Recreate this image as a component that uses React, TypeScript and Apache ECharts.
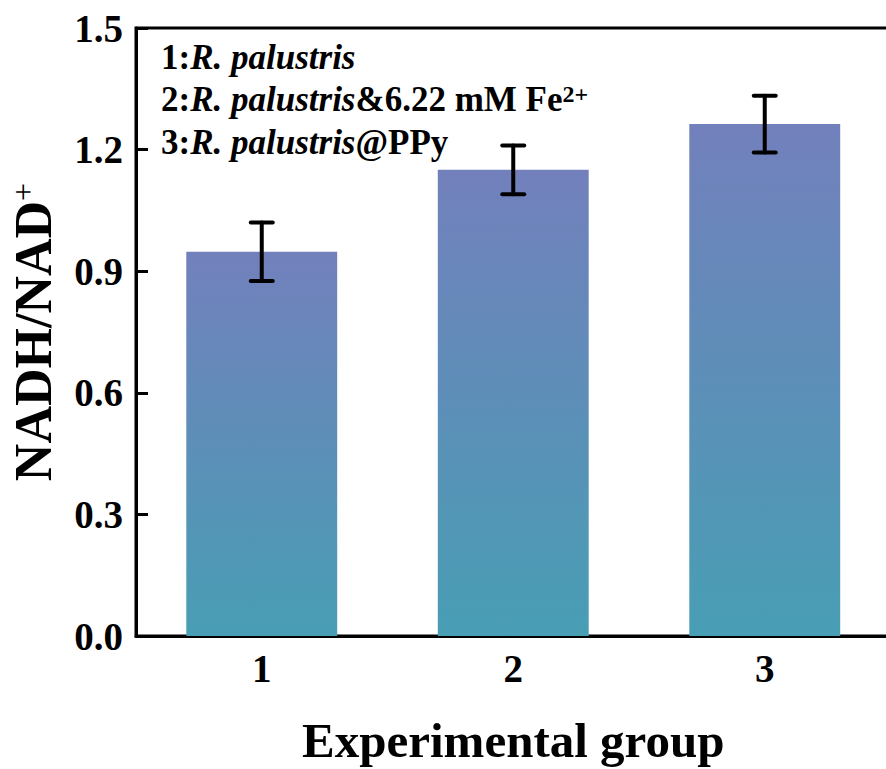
import React, { useEffect, useRef } from "react";
import * as echarts from "echarts";

const categories = ["1", "2", "3"];
const means = [0.948, 1.15, 1.263];
const errors = [0.072, 0.06, 0.07];
const yTicks = { min: 0, max: 1.5, interval: 0.3 };
const legendLines = [
  "{b|1:}{i|R. palustris}",
  "{b|2:}{i|R. palustris}{b|&6.22 mM Fe}{s|2+}",
  "{b|3:}{i|R. palustris}{b|@PPy}",
];

const FONT = "'Liberation Serif', 'Times New Roman', serif";

export default function App() {
  const ref = useRef<HTMLDivElement>(null);
  useEffect(() => {
    document.body.style.margin = "0";
    const chart = echarts.init(ref.current!, null, { renderer: "svg" });
    const legendRich = {
      b: { fontFamily: FONT, fontWeight: "bold", fontSize: 35, color: "#000" },
      i: { fontFamily: FONT, fontWeight: "bold", fontStyle: "italic", fontSize: 35, color: "#000" },
      s: { fontFamily: FONT, fontWeight: "bold", fontSize: 24, color: "#000", verticalAlign: "top", lineHeight: 35 },
    };
    const legendTop = [40, 82, 125];
    chart.setOption({
      animation: false,
      backgroundColor: "#fff",
      grid: {
        left: 136,
        top: 28,
        bottom: 133,
        right: -4.5,
        outerBoundsMode: "none",
        containLabel: false,
        show: true,
        borderColor: "#000",
        borderWidth: 3,
        backgroundColor: "transparent",
      },
      xAxis: {
        type: "category",
        data: categories,
        name: "Experimental group",
        nameLocation: "middle",
        nameGap: 82,
        nameTextStyle: { fontFamily: FONT, fontWeight: "bold", fontSize: 49, lineHeight: 44, color: "#000" },
        axisLine: { lineStyle: { color: "#000", width: 3 } },
        axisTick: { show: false },
        axisLabel: { fontFamily: FONT, fontWeight: "bold", fontSize: 39, color: "#000", margin: 13 },
      },
      yAxis: {
        type: "value",
        min: yTicks.min,
        max: yTicks.max,
        interval: yTicks.interval,
        name: "{a|NADH/NAD}{s|+}",
        nameLocation: "middle",
        nameGap: 77,
        nameRotate: 90,
        nameTextStyle: {
          rich: {
            a: { fontFamily: FONT, fontWeight: "bold", fontSize: 52, color: "#000" },
            s: { fontFamily: FONT, fontWeight: "normal", fontSize: 32, color: "#000", verticalAlign: "top", lineHeight: 48 },
          },
        },
        splitLine: { show: false },
        axisLine: { show: true, lineStyle: { color: "#000", width: 3 } },
        axisTick: { show: true, inside: true, length: 12, lineStyle: { color: "#000", width: 3 } },
        axisLabel: {
          fontFamily: FONT,
          fontWeight: "bold",
          fontSize: 39,
          color: "#000",
          margin: 13,
          formatter: (v: number) => v.toFixed(1),
        },
      },
      series: [
        {
          type: "bar",
          data: means,
          barWidth: "60%",
          itemStyle: {
            color: new echarts.graphic.LinearGradient(0, 0, 0, 1, [
              { offset: 0, color: "#7280BC" },
              { offset: 1, color: "#489EB4" },
            ]),
          },
          z: 2,
        },
        {
          type: "custom",
          data: categories.map((_, i) => [i, means[i] + errors[i], means[i] - errors[i]]),
          encode: { x: 0, y: [1, 2] },
          z: 5,
          renderItem: (params: any, api: any) => {
            const x = api.value(0);
            const top = api.coord([x, api.value(1)]);
            const bot = api.coord([x, api.value(2)]);
            const half = 11;
            const st = { stroke: "#000", lineWidth: 4, lineCap: "round" };
            return {
              type: "group",
              children: [
                { type: "line", shape: { x1: top[0], y1: top[1], x2: bot[0], y2: bot[1] }, style: st },
                { type: "line", shape: { x1: top[0] - half, y1: top[1], x2: top[0] + half, y2: top[1] }, style: st },
                { type: "line", shape: { x1: bot[0] - half, y1: bot[1], x2: bot[0] + half, y2: bot[1] }, style: st },
              ],
            };
          },
        },
      ],
      graphic: legendLines.map((t, i) => ({
        type: "text",
        left: 161,
        top: legendTop[i],
        style: { text: t, rich: legendRich },
        z: 10,
      })),
    });
    return () => chart.dispose();
  }, []);
  return <div ref={ref} style={{ width: 886, height: 769 }} />;
}
